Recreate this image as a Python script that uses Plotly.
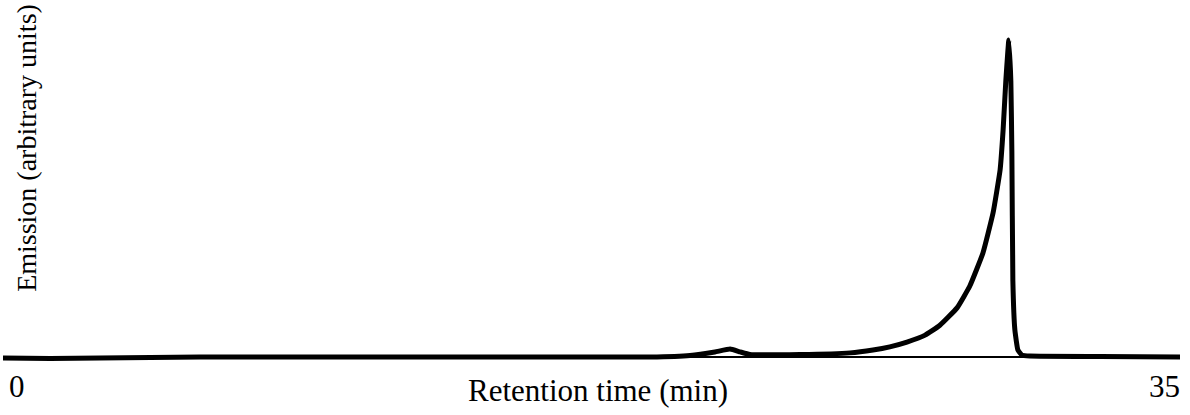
import plotly.graph_objects as go

# Chromatogram trace: retention time (min) vs emission (arbitrary units)
retention_time = [0.0, 1.40, 2.88, 5.86, 11.80, 17.75, 19.24, 20.43, 21.17, 21.62,
                  21.92, 22.21, 23.70, 25.19, 25.87, 26.37, 26.88, 27.42, 27.86,
                  28.37, 28.75, 29.14, 29.44, 29.65, 29.74, 29.82, 29.91, 29.97,
                  30.00, 30.03, 30.09, 30.18, 30.30, 30.54, 32.62, 35.0]
emission = [-0.3, -0.5, -0.3, 0.0, 0.0, 0.0, 0.0, 0.5, 1.6, 2.5,
            1.6, 0.8, 0.8, 1.3, 2.2, 3.2, 4.7, 6.9, 10.0,
            15.5, 22.4, 32.8, 45.4, 59.0, 71.6, 87.0, 100.0, 87.0,
            65.0, 24.0, 8.5, 2.2, 0.6, 0.3, 0.15, 0.0]

x_range = [0, 35]
y_range = [-1.58, 103.15]

FONT = "'Times New Roman', 'Liberation Serif', 'DejaVu Serif', serif"

fig = go.Figure()
fig.add_trace(go.Scatter(
    x=retention_time, y=emission, mode="lines",
    line=dict(color="black", width=5, shape="spline", smoothing=0.35),
    hoverinfo="skip", showlegend=False,
))

fig.update_layout(
    width=1190, height=415,
    margin=dict(l=3, r=10, t=30, b=53),
    paper_bgcolor="white", plot_bgcolor="white",
    font=dict(family=FONT, color="black"),
    xaxis=dict(range=x_range, showgrid=False, zeroline=False, showline=False,
               showticklabels=False, ticks=""),
    yaxis=dict(range=y_range, showgrid=False, zeroline=True, zerolinecolor="black",
               zerolinewidth=2, showline=False, showticklabels=False, ticks=""),
    annotations=[
        dict(text="0", x=0.0119, y=-0.0753, xref="paper", yref="paper",
             showarrow=False, xanchor="center", yanchor="middle",
             font=dict(family=FONT, size=31, color="black")),
        dict(text="35", x=0.987, y=-0.0753, xref="paper", yref="paper",
             showarrow=False, xanchor="center", yanchor="middle",
             font=dict(family=FONT, size=31, color="black")),
        dict(text="Retention time (min)", x=0.5055, y=-0.0873, xref="paper", yref="paper",
             showarrow=False, xanchor="center", yanchor="middle",
             font=dict(family=FONT, size=31, color="black")),
        dict(text="Emission (arbitrary units)", x=0.0204, y=0.645, xref="paper", yref="paper",
             showarrow=False, xanchor="center", yanchor="middle", textangle=-90,
             font=dict(family=FONT, size=28, color="black")),
    ],
)

fig.write_html("out.html")
